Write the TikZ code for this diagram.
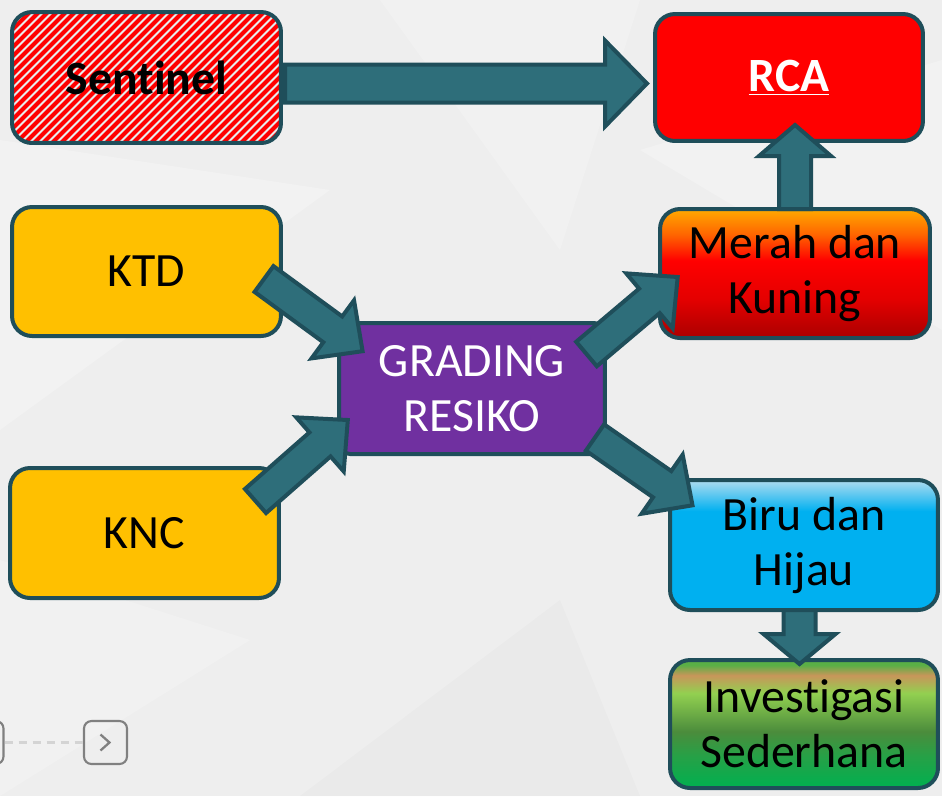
\documentclass[tikz,border=0pt]{standalone}
\usepackage{fontspec}
\setmainfont{Carlito}[Ligatures=NoCommon]
\usetikzlibrary{calc}

\definecolor{bg}{RGB}{238,238,238}
\definecolor{edge}{RGB}{31,78,90}
\definecolor{arrowfill}{RGB}{46,110,122}
\definecolor{ktdyellow}{RGB}{255,192,0}
\definecolor{gradpurple}{RGB}{112,48,160}
\definecolor{sentbg}{RGB}{232,236,236}
\definecolor{rcared}{RGB}{255,0,0}
\definecolor{navgray}{RGB}{128,128,128}
\definecolor{dashgray}{RGB}{212,212,212}
\definecolor{merahA}{RGB}{170,0,0}
\definecolor{merahB}{RGB}{228,0,0}
\definecolor{merahC}{RGB}{255,0,0}
\definecolor{merahD}{RGB}{255,100,0}
\definecolor{merahE}{RGB}{255,170,0}
\definecolor{biruA}{RGB}{0,176,240}
\definecolor{biruB}{RGB}{175,220,240}
\definecolor{hijauA}{RGB}{0,176,80}
\definecolor{hijauB}{RGB}{40,160,70}
\definecolor{hijauC}{RGB}{75,140,60}
\definecolor{hijauD}{RGB}{146,208,80}
\definecolor{hijauE}{RGB}{200,150,90}
\definecolor{hijauF}{RGB}{90,175,70}

\pgfdeclareverticalshading{merahshade}{100bp}{color(0bp)=(merahA); color(25bp)=(merahA); color(40bp)=(merahB); color(55bp)=(merahC); color(65bp)=(merahD); color(75bp)=(merahE); color(100bp)=(merahE)}
\pgfdeclareverticalshading{birushade}{100bp}{color(0bp)=(biruA); color(25bp)=(biruA); color(63bp)=(biruA); color(75bp)=(biruB); color(100bp)=(biruB)}
\pgfdeclareverticalshading{hijaushade}{100bp}{color(0bp)=(hijauA); color(25bp)=(hijauA); color(38bp)=(hijauB); color(47bp)=(hijauC); color(62bp)=(hijauD); color(69bp)=(hijauE); color(73bp)=(hijauF); color(100bp)=(hijauF)}

\newcommand{\blockarrow}[5]{%
	\coordinate (hb) at ($(#2)!#5!(#1)$);
	\draw[blockarr] ($(#1)!#3!90:(#2)$) -- ($(hb)!#3!90:(#2)$) -- ($(hb)!#4!90:(#2)$) -- (#2)
		-- ($(hb)!#4!-90:(#2)$) -- ($(hb)!#3!-90:(#2)$) -- ($(#1)!#3!-90:(#2)$) -- cycle;
}

\begin{document}
\begin{tikzpicture}[x=0.02cm, y=-0.02cm,
	box/.style={draw=edge, line width=0.08cm, rounded corners=0.4cm, minimum width=5.38cm, minimum height=2.58cm, align=center, font=\fontsize{27.2}{31.3}\selectfont},
	blockarr/.style={draw=edge, fill=arrowfill, line width=0.08cm, line join=miter},
	navbtn/.style={draw=navgray, line width=1.2pt, rounded corners=0.15cm, minimum size=0.86cm}]

	\useasboundingbox[fill=bg] (0,0) rectangle (942,796);
	\fill[white, opacity=0.25] (0,140) -- (330,190) -- (0,430) -- cycle;
	\fill[white, opacity=0.2] (380,0) -- (640,0) -- (560,250) -- cycle;
	\fill[white, opacity=0.25] (640,150) -- (942,60) -- (942,330) -- cycle;
	\fill[black, opacity=0.015] (300,796) -- (560,600) -- (640,796) -- cycle;
	\fill[white, opacity=0.2] (0,560) -- (250,640) -- (0,796) -- cycle;

	\node[box, fill=sentbg, minimum height=2.62cm, path picture={
		\foreach \i in {-2.8,-2.62,...,5.6}
			\draw[red, line width=2.3pt] ($(path picture bounding box.south west)+(\i cm,0cm)$) -- ++(3cm,3cm);
		}] (sentinel) at (146.5,77.5) {\textbf{Sentinel}};
	\node[box, fill=rcared, text=white, minimum width=5.36cm, minimum height=2.54cm] (rca) at (789,77.5) {\textbf{\underline{RCA}}};
	\node[box, fill=ktdyellow] (ktd) at (146.5,271.5) {KTD};
	\node[box, fill=ktdyellow, minimum height=2.6cm] (knc) at (144.5,533) {KNC};
	\node[box, fill=gradpurple, text=white, rounded corners=0.22cm, minimum width=5.32cm, minimum height=2.62cm] (grading) at (472,388.5) {GRADING\\RESIKO};
	\node[box, shade, shading=merahshade, minimum width=5.40cm] (merah) at (795,273.5) {Merah dan\\Kuning};
	\node[box, shade, shading=birushade, minimum width=5.36cm, minimum height=2.6cm] (biru) at (804,545) {Biru dan\\Hijau};
	\node[box, shade, shading=hijaushade, minimum width=5.36cm, minimum height=2.56cm] (invest) at (804,724) {Investigasi\\Sederhana};

	\coordinate (sent-out) at (285,83.5);
	\coordinate (rca-in) at (647,83.5);
	\coordinate (ktd-out) at (264,279);
	\coordinate (ktd-in) at (362.6,351.2);
	\coordinate (knc-out) at (255.5,501);
	\coordinate (knc-in) at (347.8,420);
	\coordinate (merah-in) at (677.7,277);
	\coordinate (grad-up) at (586.5,354);
	\coordinate (grad-down) at (595,437.5);
	\coordinate (biru-in) at (692.5,505.3);
	\coordinate (merah-out) at (795,209);
	\coordinate (rca-up) at (795,125);
	\coordinate (biru-out) at (799.5,610);
	\coordinate (invest-in) at (799.5,664);

	\blockarrow{sent-out}{rca-in}{0.38cm}{0.86cm}{0.84cm}
	\blockarrow{ktd-out}{ktd-in}{0.32cm}{0.72cm}{0.74cm}
	\blockarrow{knc-out}{knc-in}{0.32cm}{0.72cm}{0.74cm}
	\blockarrow{grad-up}{merah-in}{0.32cm}{0.72cm}{0.74cm}
	\blockarrow{grad-down}{biru-in}{0.32cm}{0.72cm}{0.74cm}
	\blockarrow{merah-out}{rca-up}{0.32cm}{0.72cm}{0.62cm}
	\blockarrow{biru-out}{invest-in}{0.32cm}{0.72cm}{0.6cm}

	\node[navbtn] (navprev) at (-18,742.5) {};
	\node[navbtn] (navnext) at (105.5,742.5) {};
	\draw[dashgray, line width=1.6pt, dash pattern=on 0.16cm off 0.12cm] (navprev.east) -- (navnext.west);
	\draw[navgray, line width=1.3pt] ($(navnext.center)+(-5,-8)$) -- ($(navnext.center)+(4,0)$) -- ($(navnext.center)+(-5,8)$);

\end{tikzpicture}
\end{document}
